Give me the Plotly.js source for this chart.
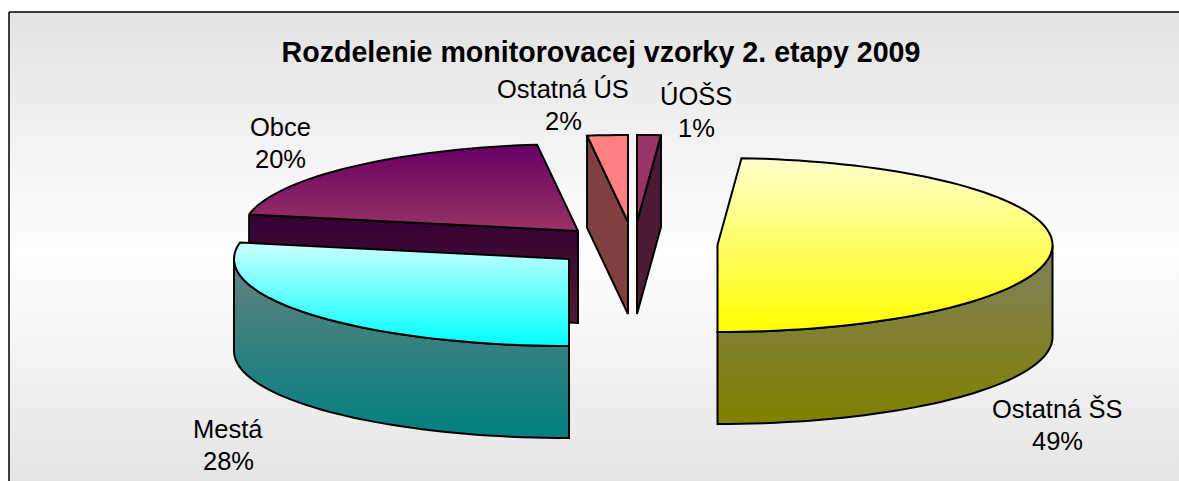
<!DOCTYPE html>
<html>
<head>
<meta charset="utf-8">
<script src="https://cdn.plot.ly/plotly-3.0.1.min.js"></script>
<style>html,body{margin:0;padding:0;background:#fff;overflow:hidden}#chart{width:1179px;height:481px}</style>
</head>
<body>
<div id="chart"></div>
<script>
// ---- data ----
const categories = ['ÚOŠS', 'Ostatná ŠS', 'Mestá', 'Obce', 'Ostatná ÚS'];
const values = [1.14, 48.86, 28.05, 20, 1.95];
const chartTitle = 'Rozdelenie monitorovacej vzorky 2. etapy 2009';

// ---- exploded-pie geometry (plot units = px of the 1179x481 page) ----
const apexX = [637, 717.5, 569, 578, 628];
const apexY = [222, 245, 259, 231, 222];
const radiusX = 335, radiusY = 87, depth = 92;
const labelX = [696, 1057, 228, 280, 563];
const labelY = [96, 409, 429, 127, 89];
const labelGap = 32;

// ---- styles ----
const topColors = [['#993366','#993366'], ['#ffffcc','#ffff00'], ['#ccffff','#00ffff'], ['#660066','#993366'], ['#ff8080','#ff8080']];
const wallColors = [['#4d1a33','#4d1a33'], ['#808060','#808000'], ['#668080','#008080'], ['#330033','#4d1a33'], ['#804040','#804040']];
const paintOrder = [3, 2, 4, 0, 1];

const rad = d => d * Math.PI / 180;
const total = values.reduce((a, b) => a + b, 0);
let acc = 0;
const spans = values.map(v => { const s = acc; acc += v / total * 360; return [s, acc]; });

function point(i, a, dz) {
  return [apexX[i] + radiusX * Math.sin(rad(a)), apexY[i] - radiusY * Math.cos(rad(a)) + (dz || 0)];
}
function arc(i, a0, a1, dz) {
  const n = Math.max(2, Math.ceil(Math.abs(a1 - a0) / 2));
  const out = [];
  for (let k = 0; k <= n; k++) out.push(point(i, a0 + (a1 - a0) * k / n, dz));
  return out;
}
function poly(pts, colors, name) {
  const closed = pts.concat([pts[0]]);
  const ys = closed.map(p => p[1]);
  return {
    type: 'scatter', mode: 'lines', name: name, showlegend: false, hoverinfo: 'skip',
    x: closed.map(p => p[0]), y: ys, fill: 'toself',
    line: {color: '#000000', width: 2, simplify: false},
    fillcolor: colors[0],
    fillgradient: {type: 'vertical', start: Math.min.apply(null, ys), stop: Math.max.apply(null, ys),
      colorscale: [[0, colors[0]], [1, colors[1]]]}
  };
}

const traces = [];
// page gradient panel: its right and bottom edges run off the page
const bgX = [9, 1195, 1195, 9, 9], bgY = [12, 12, 495, 495, 12];
traces.push({
  type: 'scatter', mode: 'lines', showlegend: false, hoverinfo: 'skip', x: bgX, y: bgY, fill: 'toself',
  line: {color: '#000000', width: 1.5}, fillcolor: '#f4f4f4',
  fillgradient: {type: 'vertical', start: 12, stop: 495,
    colorscale: [[0, '#e3e3e3'], [0.5, '#ffffff'], [1, '#e3e3e3']]}
});

paintOrder.forEach(i => {
  const [s, e] = spans[i];
  const apex = [apexX[i], apexY[i]], apexLow = [apexX[i], apexY[i] + depth];
  // radial cut walls that face the viewer
  if (Math.cos(rad(s - 90)) < -1e-6) {
    traces.push(poly([point(i, s), apex, apexLow, point(i, s, depth)], wallColors[i], categories[i]));
  }
  if (Math.cos(rad(e + 90)) < -1e-6) {
    traces.push(poly([point(i, e), apex, apexLow, point(i, e, depth)], wallColors[i], categories[i]));
  }
  // rim wall on the near half of the ellipse
  const a0 = Math.max(s, 90), a1 = Math.min(e, 270);
  if (a1 > a0) {
    traces.push(poly(arc(i, a0, a1, 0).concat(arc(i, a1, a0, depth)), wallColors[i], categories[i]));
  }
  // top face
  traces.push(poly([apex].concat(arc(i, s, e, 0)), topColors[i], categories[i]));
});

const annotations = [];
categories.forEach((c, i) => {
  const common = {xref: 'x', yref: 'y', showarrow: false, xanchor: 'center', yanchor: 'middle',
    font: {family: 'Liberation Sans, Arial, sans-serif', size: 25.5, color: '#000000'}};
  annotations.push(Object.assign({x: labelX[i], y: labelY[i], text: c}, common));
  annotations.push(Object.assign({x: labelX[i], y: labelY[i] + labelGap, text: Math.round(values[i] / total * 100) + '%'}, common));
});

const layout = {
  width: 1179, height: 481,
  margin: {l: 0, r: 0, t: 0, b: 0, pad: 0},
  paper_bgcolor: '#ffffff', plot_bgcolor: 'rgba(0,0,0,0)',
  showlegend: false,
  title: {text: '<b>' + chartTitle + '</b>', x: 601 / 1179, xanchor: 'center', y: 1 - 52 / 481, yanchor: 'middle',
    font: {family: 'Liberation Sans, Arial, sans-serif', size: 28.6, color: '#000000'}},
  xaxis: {range: [0, 1179], visible: false, fixedrange: true},
  yaxis: {range: [481, 0], visible: false, fixedrange: true},
  annotations: annotations
};
Plotly.newPlot('chart', traces, layout, {displayModeBar: false, staticPlot: true});
</script>
</body>
</html>
